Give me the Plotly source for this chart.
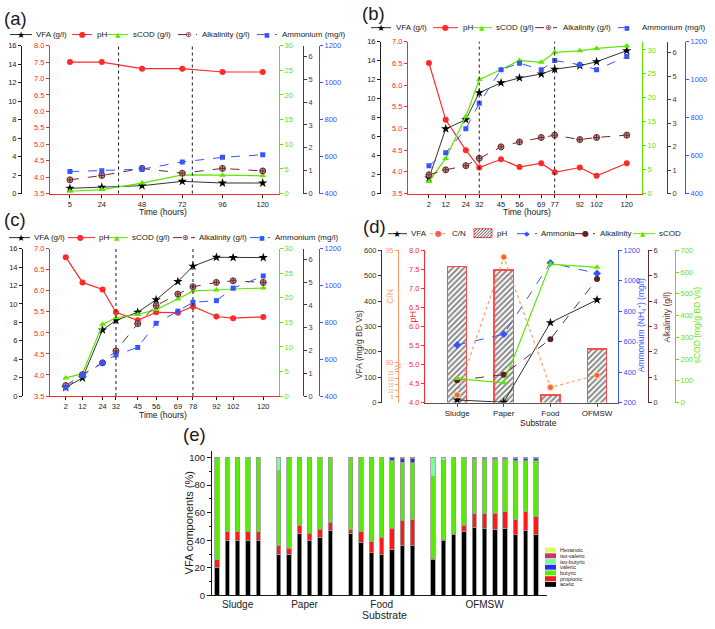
import plotly.graph_objects as go

W, H = 715, 629
FONT = "Liberation Sans, Arial, Helvetica, sans-serif"
SYM = "DejaVu Sans"
RED = "#ff2a2a"
INK = "#1a1a1a"
GREEN = "#5fe600"
BROWN = "#6b2b2b"
BLUE = "#3455ff"
ORANGE = "#ff9966"
GRAY = "#555555"

# ---------------- data: panel (a) ----------------
time_a = [5, 24, 48, 72, 96, 120]
vfa_a = [0.57, 0.68, 0.85, 1.32, 1.14, 1.14]
ph_a = [7.5, 7.5, 7.3, 7.3, 7.2, 7.2]
scod_a = [0.47, 0.8, 2.13, 3.8, 3.73, 3.6]
alk_a = [0.60, 0.79, 1.10, 0.89, 1.10, 0.99]
amm_a = [519, 524, 532, 571, 596, 610]
phase_a = [34, 78]

# ---------------- data: panel (b) ----------------
time_b = [2, 12, 24, 32, 45, 56, 69, 77, 92, 102, 120]
vfa_b = [1.63, 6.82, 7.79, 10.63, 11.67, 12.19, 12.6, 13.1, 13.47, 13.9, 15.06]
ph_b = [6.51, 5.20, 4.50, 4.10, 4.29, 4.11, 4.20, 3.99, 4.10, 3.91, 4.20]
scod_b = [2.54, 7.34, 16.1, 23.8, 25.9, 27.8, 27.4, 29.5, 29.8, 30.3, 30.8]
alk_b = [0.80, 1.01, 1.19, 1.50, 1.99, 2.20, 2.39, 2.49, 2.30, 2.39, 2.49]
amm_b = [547, 615, 741, 876, 1053, 1087, 1053, 1101, 1079, 1053, 1122]
phase_b = [32, 77]

# ---------------- data: panel (c) ----------------
time_c = [2, 12, 24, 32, 45, 56, 69, 78, 92, 102, 120]
vfa_c = [0.93, 1.96, 7.18, 8.21, 9.1, 10.46, 12.43, 14.1, 15.07, 15.04, 15.04]
ph_c = [6.80, 6.20, 6.03, 5.49, 5.30, 5.49, 5.48, 5.63, 5.39, 5.35, 5.38]
scod_c = [3.68, 4.55, 14.6, 15.94, 16.6, 17.6, 19.76, 21.4, 21.6, 21.8, 22.0]
alk_c = [0.46, 0.94, 1.46, 1.98, 3.18, 3.97, 4.48, 4.80, 4.99, 5.06, 4.99]
amm_c = [445, 512, 580, 623, 664, 795, 861, 909, 918, 986, 1052]
phase_c = [32, 78]

# ---------------- data: panel (d) ----------------
substrates = ["Sludge", "Paper", "Food", "OFMSW"]
vfa_d = [10, 1, 315, 405]
cn_d = [6.2, 94.7, 12.4, 22.3]
ph_d = [7.58, 7.48, 4.20, 5.41]
amm_d = [578, 649, 1118, 1049]
alk_d = [0.88, 1.10, 2.50, 4.87]
scod_d = [110, 91, 637, 622]
cn_ticks = [5, 10, 15, 20, 25, 90, 95]

# ---------------- data: panel (e) ----------------
groups = ["Sludge", "Paper", "Food", "OFMSW"]
group_sizes = [5, 6, 7, 11]
acetic = [20, 40, 40, 40, 40,
          30, 30, 45, 40, 42, 47,
          45, 38, 31, 30, 33, 36, 36,
          26, 39.5, 44, 46.5, 49.5, 48.5, 48, 48.5, 44, 47, 44]
propionic = [6, 6, 6, 6, 6,
             6, 4, 6, 5, 6, 6,
             3, 8, 8, 12, 15.5, 18, 19,
             1, 1, 1, 4.5, 9.5, 10.5, 11.5, 12, 11, 13.5, 13]
butyric = [74, 54, 54, 54, 54,
           54.5, 66, 49, 55, 52, 47,
           52, 54, 61, 58, 49.5, 42.5, 41,
           59, 57, 55, 49, 40, 39.5, 39, 38, 42.5, 37, 40.5]
valeric = [0, 0, 0, 0, 0,
           0, 0, 0, 0, 0, 0,
           0, 0, 0, 0, 2, 2.5, 3,
           0, 0.5, 0, 0, 0, 0.5, 0.5, 0.5, 1.5, 2, 1.5]
iso_butyric = [0, 0, 0, 0, 0,
               9.5, 0, 0, 0, 0, 0,
               0, 0, 0, 0, 0, 0, 0,
               14, 2, 0, 0, 0, 0, 0, 0, 0, 0, 0]
iso_valeric = [0, 0, 0, 0, 0,
               0, 0, 0, 0, 0, 0,
               0, 0, 0, 0, 0, 1, 1,
               0, 0, 0, 0, 1, 1, 1, 1, 1, 0.5, 1]
hexanoic = [0, 0, 0, 0, 0,
            0, 0, 0, 0, 0, 0,
            0, 0, 0, 0, 0, 0, 0,
            0, 0, 0, 0, 0, 0, 0, 0, 0, 0, 0]
acid_names = ["acetic", "propionic", "butyric", "valeric", "iso-butyric", "iso-valeric", "Hexanoic"]
acid_colors = ["#000000", "#ff1a1a", "#55ee00", "#2233ee", "#77ff99", "#cc3377", "#ddff55"]


def px(x):
    return x / W


def py(y):
    return 1 - y / H


def xa(n):
    return "xaxis" if n == 1 else f"xaxis{n}"


def ya(n):
    return "yaxis" if n == 1 else f"yaxis{n}"


def xr(n):
    return "x" if n == 1 else f"x{n}"


def yr(n):
    return "y" if n == 1 else f"y{n}"


def ystyle(color, rng, dtick=None, tick0=None, fmt=None, side="left", size=7.5,
           tickvals=None, ticktext=None):
    d = dict(range=rng, side=side, showgrid=False, zeroline=False, showline=True,
             linecolor=color, linewidth=1, ticks="outside", ticklen=3, tickwidth=1,
             tickcolor=color, tickfont=dict(size=size, color=color, family=FONT))
    if tickvals is not None:
        d.update(tickmode="array", tickvals=tickvals, ticktext=ticktext)
    else:
        d.update(dtick=dtick, tick0=rng[0] if tick0 is None else tick0)
    if fmt:
        d["tickformat"] = fmt
    return d


fig = go.Figure()
layout = {}
shapes = []
annotations = []


def add_text(x, y, text, size=8, color=INK, xanchor="left", angle=0, family=FONT, yanchor="middle"):
    annotations.append(dict(x=px(x), y=py(y), xref="paper", yref="paper", text=text,
                            showarrow=False, xanchor=xanchor, yanchor=yanchor,
                            textangle=angle, font=dict(size=size, color=color, family=family)))


def add_legend_line(x0, x1, y, color, dash, sym, symx, symsize, symcolor, label, tx, size=8):
    shapes.append(dict(type="line", xref="paper", yref="paper", x0=px(x0), x1=px(x1),
                       y0=py(y), y1=py(y), line=dict(color=color, width=1, dash=dash)))
    add_text(symx, y, sym, size=symsize, color=symcolor, xanchor="center", family=SYM)
    add_text(tx, y, label, size=size)


def time_panel(nx, yb, xdom, ydom, pos_vfa, pos_alk, pos_amm, xrange, times,
               vfa, ph, scod, alk, amm, ph_rng, scod_rng, phases):
    layout[xa(nx)] = dict(domain=[px(xdom[0]), px(xdom[1])], anchor=yr(yb), range=xrange,
                          tickmode="array", tickvals=times, showgrid=False, zeroline=False,
                          showline=True, linecolor=RED, linewidth=1, ticks="outside",
                          ticklen=3, tickcolor=INK,
                          tickfont=dict(size=7.5, color=INK, family=FONT))
    layout[ya(yb)] = dict(domain=[py(ydom[1]), py(ydom[0])], anchor=xr(nx),
                          **ystyle(RED, ph_rng, 0.5, fmt=".1f"))
    layout[ya(yb + 1)] = dict(overlaying=yr(yb), anchor="free", position=px(pos_vfa),
                              **ystyle(INK, [0, 16], 2))
    layout[ya(yb + 2)] = dict(overlaying=yr(yb), anchor=xr(nx),
                              **ystyle(GREEN, scod_rng, 5, side="right"))
    layout[ya(yb + 3)] = dict(overlaying=yr(yb), anchor="free", position=px(pos_alk),
                              **ystyle(BROWN, [0, 6.47], 1, side="right"))
    layout[ya(yb + 4)] = dict(overlaying=yr(yb), anchor="free", position=px(pos_amm),
                              **ystyle(BLUE, [400, 1200], 200, side="right"))
    X = xr(nx)
    fig.add_trace(go.Scatter(x=times, y=ph, xaxis=X, yaxis=yr(yb), mode="lines+markers",
                             line=dict(color=RED, width=1.2),
                             marker=dict(symbol="circle", size=6, color=RED)))
    fig.add_trace(go.Scatter(x=times, y=scod, xaxis=X, yaxis=yr(yb + 2), mode="lines+markers",
                             line=dict(color=GREEN, width=1.2),
                             marker=dict(symbol="triangle-up", size=6, color=GREEN)))
    fig.add_trace(go.Scatter(x=times, y=alk, xaxis=X, yaxis=yr(yb + 3), mode="lines+markers",
                             line=dict(color=BROWN, width=1, dash="dash"),
                             marker=dict(symbol="circle-cross", size=6, color="#b89090",
                                         line=dict(color=BROWN, width=1))))
    fig.add_trace(go.Scatter(x=times, y=amm, xaxis=X, yaxis=yr(yb + 4), mode="lines+markers",
                             line=dict(color=BLUE, width=1, dash="dash"),
                             marker=dict(symbol="square", size=5, color=BLUE)))
    fig.add_trace(go.Scatter(x=times, y=vfa, xaxis=X, yaxis=yr(yb + 1), mode="lines+markers",
                             line=dict(color="#333333", width=1),
                             marker=dict(symbol="star", size=7, color="#000000")))
    for t in phases:
        shapes.append(dict(type="line", xref=X, yref=f"{yr(yb)} domain", x0=t, x1=t, y0=0, y1=1,
                           line=dict(color=INK, width=1, dash="dot")))


# panel (a)
time_panel(1, 1, (50, 279), (42.3, 192.3), 21, 303, 319, [-6.9, 129.7], time_a,
           vfa_a, ph_a, scod_a, alk_a, amm_a, [3.5, 8.0], [0, 30], phase_a)
# panel (b)
time_panel(2, 6, (408, 642), (38.3, 192.3), 380, 667, 685, [-10.5, 129.1], time_b,
           vfa_b, ph_b, scod_b, alk_b, amm_b, [3.5, 7.0], [0, 31.7], phase_b)
# panel (c)
time_panel(3, 11, (50, 279), (248.3, 397.7), 22, 303, 319, [-7.4, 129.4], time_c,
           vfa_c, ph_c, scod_c, alk_c, amm_c, [3.5, 7.0], [0, 30], phase_c)

# ---------------- panel (d) ----------------
CN_LOW = 0.2009 / 25      # fraction of axis height per unit, lower segment
CN_UP0 = 0.2657           # position of value 90
CN_UP = (1 - CN_UP0) / 5  # fraction per unit, upper segment


def cn_pos(v):
    return v * CN_LOW if v < 50 else CN_UP0 + (v - 90) * CN_UP


def cn_label(v):
    return str(v) if v >= 50 else f"<span style='font-size:5px'>{v}</span>"


layout[xa(4)] = dict(domain=[px(425), px(618)], anchor=yr(16), type="category",
                     range=[-0.69, 3.45], showgrid=False, zeroline=False, showline=True,
                     linecolor=GRAY, linewidth=1, ticks="outside", ticklen=3, tickcolor=GRAY,
                     tickfont=dict(size=8, color=INK, family=FONT))
layout[ya(16)] = dict(domain=[py(404.3), py(250)], anchor=xr(4),
                      **ystyle(RED, [4.0, 8.0], 0.5, fmt=".1f"))
layout[ya(17)] = dict(overlaying=yr(16), anchor="free", position=px(381),
                      **ystyle("#333333", [0, 600], 100))
layout[ya(18)] = dict(overlaying=yr(16), anchor="free", position=px(398),
                      **ystyle(ORANGE, [0, 1], tickvals=[cn_pos(v) for v in cn_ticks],
                               ticktext=[cn_label(v) for v in cn_ticks]))
layout[ya(19)] = dict(overlaying=yr(16), anchor=xr(4),
                      **ystyle(BLUE, [200, 1200], 200, side="right"))
layout[ya(20)] = dict(overlaying=yr(16), anchor="free", position=px(648),
                      **ystyle(BROWN, [0, 6], 1, side="right"))
layout[ya(21)] = dict(overlaying=yr(16), anchor="free", position=px(675),
                      **ystyle(GREEN, [0, 700], 100, side="right"))

fig.add_trace(go.Bar(x=substrates, y=ph_d, xaxis="x4", yaxis="y16", width=0.41,
                     marker=dict(color="white", line=dict(color="#ff4d4d", width=1.5),
                                 pattern=dict(shape="/", fgcolor="#111111", bgcolor="white",
                                              size=4, solidity=0.5))))
fig.add_trace(go.Scatter(x=substrates, y=[cn_pos(v) for v in cn_d], xaxis="x4", yaxis="y18",
                         mode="lines+markers", line=dict(color=ORANGE, width=1.2, dash="dot"),
                         marker=dict(symbol="circle", size=6, color="#ff5a5a",
                                     line=dict(color="#ffe066", width=1))))
fig.add_trace(go.Scatter(x=substrates, y=amm_d, xaxis="x4", yaxis="y19", mode="lines+markers",
                         line=dict(color=BLUE, width=1, dash="dash"),
                         marker=dict(symbol="diamond", size=6, color=BLUE)))
fig.add_trace(go.Scatter(x=substrates, y=alk_d, xaxis="x4", yaxis="y20", mode="lines+markers",
                         line=dict(color=BROWN, width=1, dash="dash"),
                         marker=dict(symbol="circle", size=6, color="#5a2525")))
fig.add_trace(go.Scatter(x=substrates, y=scod_d, xaxis="x4", yaxis="y21", mode="lines+markers",
                         line=dict(color=GREEN, width=1.2),
                         marker=dict(symbol="triangle-up", size=6, color=GREEN)))
fig.add_trace(go.Scatter(x=substrates, y=vfa_d, xaxis="x4", yaxis="y17", mode="lines+markers",
                         line=dict(color="#333333", width=1),
                         marker=dict(symbol="star", size=7, color="#000000")))
# break marks on the C/N axis
for yy in (366.5, 369.5):
    shapes.append(dict(type="line", xref="paper", yref="paper", x0=px(395), x1=px(401),
                       y0=py(yy + 1.5), y1=py(yy - 1.5), line=dict(color=ORANGE, width=1)))

# ---------------- panel (e) ----------------
positions = []
centers = []
k = 0
for size in group_sizes:
    grp = list(range(k, k + size))
    positions.extend(grp)
    centers.append(sum(grp) / len(grp))
    k += size + 1

layout[xa(5)] = dict(domain=[px(212), px(547)], anchor=yr(22), range=[-0.49, 32.07],
                     tickmode="array", tickvals=centers, ticktext=groups, ticks="", ticklen=0,
                     showgrid=False, zeroline=False, showline=True, linecolor=INK,
                     tickfont=dict(size=10, color=INK, family=FONT))
layout[ya(22)] = dict(domain=[py(600), py(453)], anchor=xr(5), range=[0, 105], dtick=20,
                      showgrid=False, zeroline=False, showline=True, linecolor=INK,
                      ticks="outside", ticklen=4, tickcolor=INK,
                      minor=dict(dtick=10, ticks="outside", ticklen=2, tickcolor=INK),
                      tickfont=dict(size=9.5, color=INK, family=FONT))
acid_values = [acetic, propionic, butyric, valeric, iso_butyric, iso_valeric, hexanoic]
for name, vals, col in zip(acid_names, acid_values, acid_colors):
    fig.add_trace(go.Bar(x=positions, y=vals, name=name, xaxis="x5", yaxis="y22", width=0.42,
                         marker=dict(color=col, line=dict(color="#9a9a9a", width=0.8))))

# ---------------- legends & labels ----------------
# (a)
add_legend_line(10, 32, 31, "#333333", "solid", "★", 21, 9, "#000", "VFA (g/l)", 34)
add_legend_line(72, 92, 31, RED, "solid", "●", 82, 8, RED, "pH", 95)
add_legend_line(107, 128, 31, GREEN, "solid", "▲", 118, 7, GREEN, "sCOD (g/l)", 131)
add_legend_line(178, 197, 31, BROWN, "dash", "⊕", 188, 8, BROWN, "Alkalinity (g/l)", 200)
add_legend_line(257, 277, 31, BLUE, "dash", "■", 267, 6, BLUE, "Ammonium (mg/l)", 280)
# (b)
add_legend_line(371, 391, 24, "#333333", "solid", "★", 381, 9, "#000", "VFA (g/l)", 394)
add_legend_line(433, 458, 24, RED, "solid", "●", 445, 8, RED, "pH", 461)
add_legend_line(473, 492, 24, GREEN, "solid", "▲", 482, 7, GREEN, "sCOD (g/l)", 494)
add_legend_line(535, 557, 24, BROWN, "dash", "⊕", 548, 8, BROWN, "Alkalinity (g/l)", 561)
add_legend_line(618, 635, 24, BLUE, "dash", "■", 627, 6, BLUE, "Ammonium (mg/l)", 640)
# (c)
add_legend_line(9, 30, 237, "#333333", "solid", "★", 21, 9, "#000", "VFA (g/l)", 32)
add_legend_line(68, 95, 237, RED, "solid", "●", 80, 8, RED, "pH", 97)
add_legend_line(107, 128, 237, GREEN, "solid", "▲", 117, 7, GREEN, "sCOD (g/l)", 130)
add_legend_line(173, 195, 237, BROWN, "dash", "⊕", 185, 8, BROWN, "Alkalinity (g/l)", 197)
add_legend_line(250, 270, 237, BLUE, "dash", "■", 262, 6, BLUE, "Ammonium (mg/l)", 273)
# (d)
add_legend_line(388, 407, 233, "#333333", "solid", "★", 397, 9, "#000", "VFA", 409)
add_legend_line(430, 447, 233, ORANGE, "dot", "●", 438, 8, "#ff5a5a", "C/N", 450)
shapes.append(dict(type="rect", xref="paper", yref="paper", x0=px(474), x1=px(492),
                   y0=py(237), y1=py(228), fillcolor="white", line=dict(color="#ff4d4d", width=1)))
for s in range(474 + 228 + 3, 492 + 237, 3):
    xa0 = max(474, s - 237)
    xb0 = min(492, s - 228)
    if xa0 < xb0:
        shapes.append(dict(type="line", xref="paper", yref="paper", x0=px(xa0), x1=px(xb0),
                           y0=py(s - xa0), y1=py(s - xb0), line=dict(color="#222", width=0.8)))
add_text(495, 233, "pH")
add_legend_line(517, 537, 233, BLUE, "dash", "◆", 527, 7, BLUE, "Ammonia", 539)
add_legend_line(575, 595, 233, BROWN, "dash", "●", 585, 8, "#5a2525", "Alkalinity", 598)
add_legend_line(633, 655, 233, GREEN, "solid", "▲", 643, 7, GREEN, "sCOD", 657)

# panel labels
for lab, x, y in [("(a)", 2, 15), ("(b)", 360, 10), ("(c)", 2, 219), ("(d)", 361, 226), ("(e)", 181, 437)]:
    add_text(x, y, lab, size=18.5, color=INK)

# x titles
add_text(163, 211, "Time (hours)", size=8.5, xanchor="center")
add_text(527, 211, "Time (hours)", size=8.5, xanchor="center")
add_text(163, 417, "Time (hours)", size=8.5, xanchor="center")
add_text(538, 425, "Substrate", size=8.5, xanchor="center")
add_text(384, 620, "Substrate", size=10.5, xanchor="center")
add_text(189, 527, "VFA components (%)", size=11, xanchor="center", angle=-90)

# (d) axis titles
add_text(359, 346, "VFA (mg/g BD Vs)", size=8.5, color="#333333", xanchor="center", angle=-90)
add_text(390, 296, "C/N", size=8.5, color=ORANGE, xanchor="center", angle=-90)
add_text(413, 317, "pH", size=9, color=RED, xanchor="center", angle=-90)
add_text(641, 326, "Ammonium (NH<sub>4</sub><sup>+</sup>) (mg/l)", size=8.5, color=BLUE,
         xanchor="center", angle=-90)
add_text(667, 318, "Alkalinity (g/l)", size=8.5, color=BROWN, xanchor="center", angle=-90)
add_text(697, 326, "sCOD (mg/g BD Vs)", size=8.5, color=GREEN, xanchor="center", angle=-90)

# (e) legend
leg_order = list(range(len(acid_names)))[::-1]
for row, i in enumerate(leg_order):
    y0 = 551.5 + row * 5.8
    shapes.append(dict(type="rect", xref="paper", yref="paper", x0=px(545), x1=px(556),
                       y0=py(y0 + 5), y1=py(y0), fillcolor=acid_colors[i],
                       line=dict(width=0)))
    add_text(557.5, y0 + 2.6, acid_names[i], size=5.5)

fig.update_layout(width=W, height=H, margin=dict(l=0, r=0, t=0, b=0),
                  paper_bgcolor="white", plot_bgcolor="white", barmode="stack",
                  showlegend=False, font=dict(family=FONT, size=8, color=INK),
                  shapes=shapes, annotations=annotations, **layout)
fig.write_html("out.html", config={"displayModeBar": False},
               post_script="document.body.style.margin='0px';document.body.style.overflow='hidden';")
